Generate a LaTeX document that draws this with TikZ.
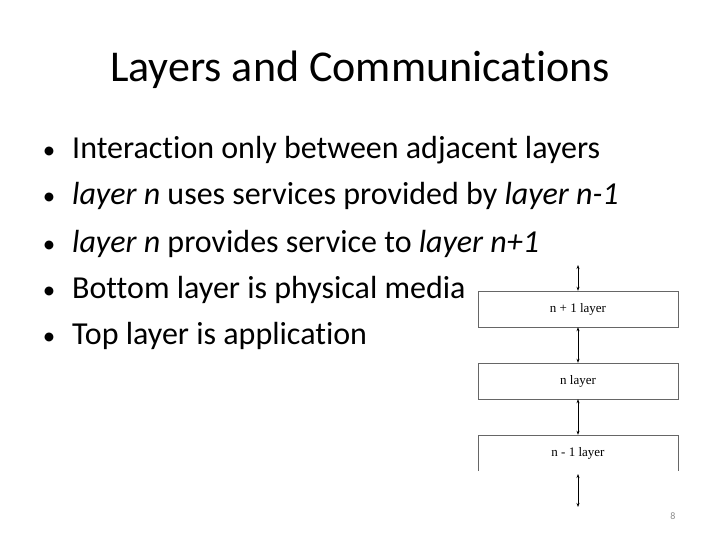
\documentclass[tikz,border=0pt]{standalone}
\usepackage{fontspec}
\setmainfont[Ligatures=NoCommon]{Carlito}
\newfontfamily\figfont{Liberation Serif}
\usetikzlibrary{arrows.meta}
\usetikzlibrary{positioning}

\begin{document}
\begin{tikzpicture}[x=1pt, y=-1pt,
    item/.style={anchor=base west, inner sep=0pt, font=\fontsize{32}{36}\selectfont},
    dot/.style={anchor=base, inner sep=0pt, font=\fontsize{25}{28}\selectfont},
    layerbox/.style={draw=black!60, minimum width=200pt, minimum height=36pt, inner sep=0pt, font=\figfont\fontsize{13}{14}\selectfont},
    link/.style={{Stealth[length=4pt,width=3pt]}-{Stealth[length=4pt,width=3pt]}, line width=0.6pt}]
  \useasboundingbox (0,0) rectangle (720,540);

  \node[anchor=base, inner sep=0pt, font=\fontsize{44}{48}\selectfont] (title) at (360,82) {Layers and Communications};

  \node[dot] (d1) at (49,159) {•};
  \node[dot] (d2) at (49,205) {•};
  \node[dot] (d3) at (49,252) {•};
  \node[dot] (d4) at (49,298) {•};
  \node[dot] (d5) at (49,344) {•};
  \node[item] (b1) at (72,159) {Interaction only between adjacent layers};
  \node[item] (b2) at (72,205) {\textit{layer n} uses services provided by \textit{layer n-1}};
  \node[item] (b3) at (72,252) {\textit{layer n} provides service to \textit{layer n+1}};
  \node[item] (b4) at (72,298) {Bottom layer is physical media};
  \node[item] (b5) at (72,344) {Top layer is application};

  % layer stack
  \node[layerbox] (upper) at (578,309) {n + 1 layer};
  \node[layerbox] (mid) at (578,381) {n layer};
  \node[layerbox, draw=none] (lower) at (578,453) {n - 1 layer};
  \draw[black!60] (lower.south west) -- (lower.north west) -- (lower.north east) -- (lower.south east);

  \coordinate (top) at (578,265);
  \coordinate (bot1) at (578,474);
  \coordinate (bot2) at (578,507);
  \draw[link] (top) -- (upper.north);
  \draw[link] (upper.south) -- (mid.north);
  \draw[link] (mid.south) -- (lower.north);
  \draw[link] (bot1) -- (bot2);

  \node[anchor=base, inner sep=0pt, text=black!45, font=\fontsize{10}{12}\selectfont] (page) at (673,519) {8};
\end{tikzpicture}
\end{document}
